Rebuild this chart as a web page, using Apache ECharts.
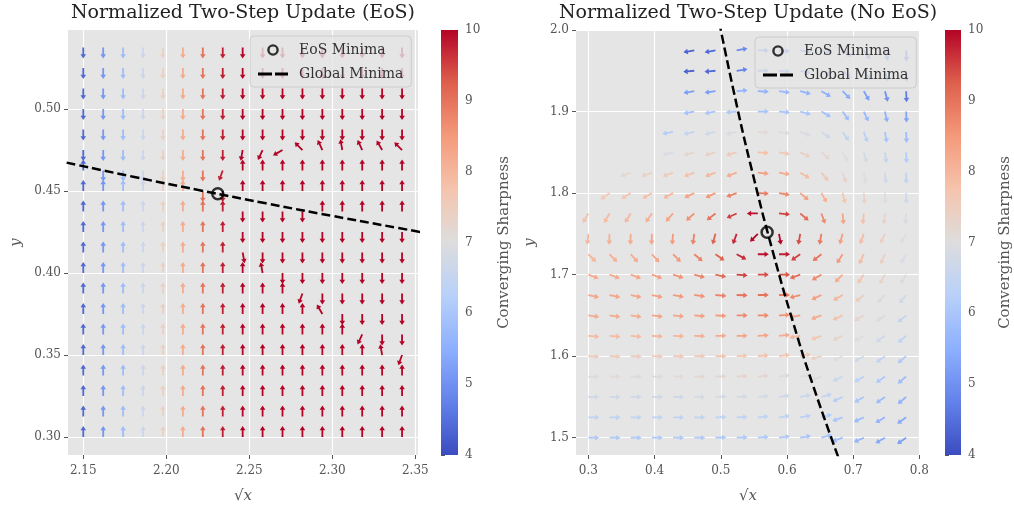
<!DOCTYPE html>
<html><head><meta charset="utf-8">
<script src="https://cdn.jsdelivr.net/npm/echarts@6/dist/echarts.min.js"></script>
<style>html,body{margin:0;padding:0;background:#fff}#c{width:1014px;height:512px}</style>
</head><body><div id="c"></div>
<script>
// ---------- DATA ----------
const leftX = [2.150,2.162,2.174,2.186,2.198,2.210,2.222,2.234,2.246,2.258,2.270,2.282,2.294,2.306,2.318,2.330,2.342];
const leftY = [0.3000,0.3125,0.3250,0.3375,0.3500,0.3625,0.3750,0.3875,0.4000,0.4125,0.4250,0.4375,0.4500,0.4625,0.4750,0.4875,0.5000,0.5125,0.5250,0.5375];
// converging sharpness per column (left panel)
const leftSharp = [4.4,5.1,5.8,6.6,7.4,8.2,9.0,9.8,10,10,10,10,10,10,10,10,10];
// arrow direction codes (screen angle, degrees) per row, top row first
const dirCode = {U:90, D:270, a:100, b:115, e:120, c:135, h:210, g:245, f:250, j:260, i:280};
const leftDirRows = [
  "DDDDDDDDDDDDDDDDD",
  "DDDDDDDDDDDDDDDDD",
  "DDDDDDDDDDDDDDDDD",
  "DDDDDDDDDDDDDDDDD",
  "DDDDDDDDDDDDDDDDD",
  "DDDDDDDDjghcbabec",
  "UDDDDDDfUUUUUUUUU",
  "UUUUUUDDUUUUUUUUU",
  "UUUUUUUUDDDDUUUUU",
  "UUUUUUUUDDDDDDDDD",
  "UUUUUUUUiDDDDDDDD",
  "UUUUUUUUUaDDDDDDD",
  "UUUUUUUUUUUfDDDDD",
  "UUUUUUUUUUUUeDDDD",
  "UUUUUUUUUUUUUUgDD",
  "UUUUUUUUUUUUUUUaf",
  "UUUUUUUUUUUUUUUUU",
  "UUUUUUUUUUUUUUUUU",
  "UUUUUUUUUUUUUUUUU",
  "UUUUUUUUUUUUUUUUU"
];
const leftLineX = [2.14, 2.18, 2.22, 2.26, 2.30, 2.34, 2.36];
const leftLineY = [0.4673, 0.4587, 0.4505, 0.4425, 0.4348, 0.4274, 0.4237];
const leftEoS = [2.231, 0.4483];

const rightX = [0.300,0.332,0.364,0.396,0.428,0.460,0.492,0.524,0.556,0.588,0.620,0.652,0.684,0.716,0.748,0.780];
const rightY = [1.500,1.525,1.550,1.575,1.600,1.625,1.650,1.675,1.700,1.725,1.750,1.775,1.800,1.825,1.850,1.875,1.900,1.925,1.950,1.975];
const n = null;
// arrow angles (degrees, screen), top row first
const rightAngle = [
  [n,n,n,n,n,190,190,10,0,-5,-10,-20,-35,-55,-75,-88],
  [n,n,n,n,n,185,185,8,0,-5,-12,-22,-40,-58,-76,-88],
  [n,n,n,n,n,190,188,5,-3,-8,-15,-30,-45,-60,-75,-88],
  [n,n,n,n,n,190,190,185,0,-5,-15,-30,-55,-65,-78,-88],
  [n,n,n,n,190,192,192,192,-3,-10,-20,-35,-55,-70,-80,-88],
  [n,n,n,n,195,195,195,195,-5,-10,-25,-40,-60,-75,-82,-88],
  [n,n,200,200,200,200,200,200,-5,-10,-30,-50,-70,-80,-85,-90],
  [n,215,212,210,208,205,205,200,-3,-10,-40,-60,-75,-85,-88,-90],
  [240,240,238,235,228,222,218,205,180,-5,-40,-70,-85,-95,-95,-95],
  [265,268,268,268,265,262,255,250,225,-80,-100,-100,-105,-110,-115,-120],
  [-45,-45,-48,-48,-45,-40,-35,-28,0,0,215,218,238,245,245,240],
  [-20,-20,-20,-20,-18,-15,-12,-5,0,0,200,210,225,235,240,240],
  [-12,-12,-12,-12,-10,-8,-5,-2,0,0,195,205,210,220,225,230],
  [-8,-8,-8,-7,-6,-5,-3,0,0,3,190,200,205,210,215,220],
  [-5,-5,-5,-4,-3,-2,0,0,3,5,190,200,205,210,215,220],
  [-3,-3,-3,-2,-2,0,0,3,5,8,10,195,205,210,215,220],
  [0,0,0,0,0,0,2,3,5,8,10,200,205,210,215,220],
  [0,0,0,0,0,0,2,3,5,8,10,15,205,210,215,220],
  [0,0,0,0,0,0,2,3,5,8,10,15,200,205,210,215],
  [0,0,0,0,0,0,2,3,5,8,10,15,200,205,210,215]
];
// converging sharpness, top row first
const rightSharp = [
  [n,n,n,n,n,4.3,4.4,4.9,5.0,5.0,5.0,5.0,5.0,4.9,4.8,4.6],
  [n,n,n,n,n,4.3,4.4,4.8,5.1,5.1,5.1,5.0,5.0,4.9,4.8,4.6],
  [n,n,n,n,n,5.2,5.2,5.6,5.6,5.7,5.6,5.5,5.4,5.2,5.0,4.7],
  [n,n,n,n,n,5.9,6.0,6.1,6.0,6.0,6.0,5.9,5.8,5.7,5.5,5.3],
  [n,n,n,n,6.2,6.5,6.7,6.9,7.1,7.0,6.9,6.7,6.5,6.3,6.0,5.8],
  [n,n,n,n,6.9,7.2,7.4,7.6,7.8,7.6,7.4,7.2,7.0,6.8,6.5,6.2],
  [n,n,7.2,7.4,7.6,7.8,8.0,8.2,8.4,8.2,7.9,7.6,7.3,7.0,6.7,6.4],
  [n,7.6,7.7,7.8,8.0,8.3,8.5,8.8,8.9,8.7,8.4,8.1,7.7,7.3,7.0,6.7],
  [7.8,7.9,8.0,8.1,8.3,8.6,9.0,9.5,9.9,9.5,9.1,8.7,8.3,7.8,7.3,6.9],
  [8.0,8.1,8.2,8.3,8.5,8.8,9.2,9.7,10,10,9.4,8.9,8.4,7.9,7.4,7.0],
  [8.0,8.1,8.2,8.3,8.5,8.8,9.2,9.7,9.9,9.8,9.5,9.0,8.5,7.9,7.4,6.9],
  [8.2,8.2,8.3,8.4,8.6,8.8,9.1,9.5,9.4,9.3,9.1,8.7,8.2,7.7,7.3,6.9],
  [8.3,8.3,8.3,8.4,8.5,8.6,8.8,9.0,9.0,8.9,8.7,8.4,8.0,7.5,7.1,6.7],
  [8.2,8.2,8.2,8.3,8.3,8.4,8.5,8.7,8.7,8.6,8.4,8.2,7.8,7.3,6.9,6.5],
  [7.9,7.9,7.9,8.0,8.0,8.1,8.2,8.3,8.3,8.2,8.0,7.7,7.3,7.0,6.7,6.4],
  [7.5,7.5,7.5,7.5,7.6,7.6,7.7,7.7,7.8,7.7,7.6,7.4,7.0,6.7,6.4,6.1],
  [7.1,7.1,7.1,7.1,7.1,7.2,7.2,7.3,7.2,7.1,7.0,6.9,6.6,6.3,6.1,5.8],
  [6.7,6.7,6.7,6.7,6.7,6.8,6.8,6.8,6.8,6.7,6.6,6.5,6.2,6.0,5.8,5.6],
  [6.4,6.4,6.4,6.4,6.4,6.4,6.4,6.4,6.4,6.4,6.3,6.2,6.0,5.8,5.6,5.4],
  [6.1,6.1,6.1,6.1,6.1,6.1,6.1,6.1,6.1,6.1,6.0,5.9,5.8,5.6,5.4,5.2]
];
const rightLineX = [0.49, 0.52, 0.55, 0.58, 0.61, 0.64, 0.68];
const rightLineY = [2.0408, 1.9231, 1.8182, 1.7241, 1.6393, 1.5625, 1.4706];
const rightEoS = [0.570, 1.752];

const leftXTicks = [2.15, 2.20, 2.25, 2.30, 2.35];
const leftYTicks = [0.30, 0.35, 0.40, 0.45, 0.50];
const rightXTicks = [0.3, 0.4, 0.5, 0.6, 0.7, 0.8];
const rightYTicks = [1.5, 1.6, 1.7, 1.8, 1.9, 2.0];
const cbarRange = [4, 10];

// ---------- helpers ----------
const cwStops = [[0,[59,76,192]],[0.125,[98,130,234]],[0.25,[141,176,254]],[0.375,[184,208,249]],[0.5,[221,221,221]],[0.625,[245,196,173]],[0.75,[244,154,123]],[0.875,[222,96,77]],[1,[180,4,38]]];
function cwT(t){
  t = Math.max(0, Math.min(1, t));
  for (let i = 1; i < cwStops.length; i++) {
    if (t <= cwStops[i][0]) {
      const a = cwStops[i-1], b = cwStops[i];
      const f = (t - a[0]) / (b[0] - a[0]);
      const c = a[1].map((v, k) => Math.round(v + (b[1][k] - v) * f));
      return 'rgb(' + c.join(',') + ')';
    }
  }
  return 'rgb(180,4,38)';
}
function cw(v){ return cwT((v - cbarRange[0]) / (cbarRange[1] - cbarRange[0])); }

const leftData = [];
leftDirRows.forEach((row, r) => {
  const j = leftY.length - 1 - r;
  for (let k = 0; k < row.length; k++) leftData.push([leftX[k], leftY[j], dirCode[row[k]], leftSharp[k]]);
});
const rightData = [];
rightAngle.forEach((row, r) => {
  const j = rightY.length - 1 - r;
  row.forEach((a, k) => { if (a !== null) rightData.push([rightX[k], rightY[j], a, rightSharp[r][k]]); });
});

function quiver(params, api){
  const p = api.coord([api.value(0), api.value(1)]);
  const ang = api.value(2) * Math.PI / 180;
  const dx = Math.cos(ang), dy = -Math.sin(ang);
  const nx = -dy, ny = dx;
  const L = 11, hl = 4.3, hw = 2.8, sw = 0.9;
  const loc = [[0,-sw],[L-hl,-sw],[L-hl,-hw],[L,0],[L-hl,hw],[L-hl,sw],[0,sw]];
  const pts = loc.map(([u, v]) => [p[0] + u*dx + v*nx, p[1] + u*dy + v*ny]);
  return {type:'polygon', shape:{points:pts}, style:{fill: cw(api.value(3))}};
}
function cbar(params, api){
  const a = api.coord([0, cbarRange[0]]), b = api.coord([1, cbarRange[1]]);
  const stops = [];
  for (let i = 0; i <= 40; i++) stops.push({offset: i/40, color: cwT(i/40)});
  return {type:'rect', shape:{x:a[0], y:b[1], width:b[0]-a[0], height:a[1]-b[1]},
    style:{fill:{type:'linear', x:0, y:1, x2:0, y2:0, colorStops:stops}}};
}

const FONT = 'DejaVu Serif';
const gray = '#555555';
function valAxis(grid, min, max, ticks, dec, name, gap, isY){
  return {
    type:'value', gridIndex:grid, min:min, max:max,
    axisLine:{show:false},
    axisTick:{show:true, length:4, lineStyle:{color:gray}, customValues:ticks},
    axisLabel:{customValues:ticks, formatter:(v)=>v.toFixed(dec), color:gray, fontFamily:FONT, fontSize:12, margin:isY ? 7 : 10},
    splitLine:{show:true, lineStyle:{color:'#ffffff', width:1.2}},
    name:name, nameLocation:'middle', nameGap:gap, nameRotate: isY ? 90 : 0,
    nameTextStyle:{fontFamily:FONT, fontSize:15, color:gray, fontStyle:'italic'}
  };
}

const dashIcon = 'path://M0,0L0.01,0L0.01,0.01ZM0,12L0.01,12L0.01,11.99ZM0,4.6h14v2.8h-14zM17,4.6h13v2.8h-13z';
const ringIcon = 'path://M0,6L0.01,6L0.01,6.01ZM30,6L29.99,6L29.99,6.01Z' +
  'M15,0.2A5.8,5.8 0 1,1 14.99,0.2ZM15,2.6A3.4,3.4 0 1,0 15.01,2.6Z';
const chart = echarts.init(document.getElementById('c'), null, {renderer:'canvas'});
const legendCommon = {
  data:[{name:'EoS Minima', icon:ringIcon, itemStyle:{color:'#000', borderWidth:0}},
        {name:'Global Minima', icon:dashIcon, itemStyle:{color:'#000', borderWidth:0}}],
  orient:'vertical', itemWidth:30, itemHeight:12, itemGap:10,
  padding:[7,8,6,8], backgroundColor:'rgba(229,229,229,0.8)', borderColor:'#cccccc', borderWidth:1, borderRadius:4,
  textStyle:{fontFamily:FONT, fontSize:14, color:'#333', padding:[0,0,0,6]}, selectedMode:false
};
chart.setOption({
  animation:false,
  grid:[
    {left:68, top:30, width:350, height:425, show:true, backgroundColor:'#E5E5E5', borderWidth:0},
    {left:576, top:30, width:344, height:425, show:true, backgroundColor:'#E5E5E5', borderWidth:0},
    {left:441, top:30, width:17, height:425},
    {left:945, top:30, width:17, height:425}
  ],
  xAxis:[
    valAxis(0, 2.1408, 2.3516, leftXTicks, 2, '√x', 34, false),
    valAxis(1, 0.2814, 0.8009, rightXTicks, 1, '√x', 34, false),
    {type:'value', gridIndex:2, min:0, max:1, show:false},
    {type:'value', gridIndex:3, min:0, max:1, show:false}
  ],
  yAxis:[
    valAxis(0, 0.2890, 0.5482, leftYTicks, 2, 'y', 44, true),
    valAxis(1, 1.4788, 2.0, rightYTicks, 1, 'y', 38, true),
    {type:'value', gridIndex:2, min:cbarRange[0], max:cbarRange[1], interval:1, position:'right',
     axisLine:{show:false}, axisTick:{show:true, length:4, lineStyle:{color:gray}}, splitLine:{show:false},
     axisLabel:{color:gray, fontFamily:FONT, fontSize:12, margin:7},
     name:'Converging Sharpness', nameLocation:'middle', nameGap:39, nameRotate:90,
     nameTextStyle:{fontFamily:FONT, fontSize:15, color:gray}},
    {type:'value', gridIndex:3, min:cbarRange[0], max:cbarRange[1], interval:1, position:'right',
     axisLine:{show:false}, axisTick:{show:true, length:4, lineStyle:{color:gray}}, splitLine:{show:false},
     axisLabel:{color:gray, fontFamily:FONT, fontSize:12, margin:7},
     name:'Converging Sharpness', nameLocation:'middle', nameGap:37, nameRotate:90,
     nameTextStyle:{fontFamily:FONT, fontSize:15, color:gray}}
  ],
  legend:[
    Object.assign({left:250, top:36}, legendCommon),
    Object.assign({left:755, top:37}, legendCommon)
  ],
  graphic:[
    {type:'text', x:243, y:13, style:{text:'Normalized Two-Step Update (EoS)', textAlign:'center', textVerticalAlign:'middle', font:'19px "DejaVu Serif"', fill:'#222'}},
    {type:'text', x:748, y:13, style:{text:'Normalized Two-Step Update (No EoS)', textAlign:'center', textVerticalAlign:'middle', font:'19px "DejaVu Serif"', fill:'#222'}}
  ],
  series:[
    {type:'custom', name:'quiverL', xAxisIndex:0, yAxisIndex:0, renderItem:quiver, data:leftData, z:2, silent:true},
    {type:'custom', name:'quiverR', xAxisIndex:1, yAxisIndex:1, renderItem:quiver, data:rightData, z:2, silent:true},
    {type:'line', name:'Global Minima', xAxisIndex:0, yAxisIndex:0, data:leftLineX.map((x,i)=>[x,leftLineY[i]]), symbol:'none', smooth:true,
     lineStyle:{color:'#000', width:2.5, type:[9,4]}, itemStyle:{color:'#000'}, z:3, clip:true},
    {type:'line', name:'Global Minima', xAxisIndex:1, yAxisIndex:1, data:rightLineX.map((x,i)=>[x,rightLineY[i]]), symbol:'none', smooth:true,
     lineStyle:{color:'#000', width:2.5, type:[9,4]}, itemStyle:{color:'#000'}, z:3, clip:true},
    {type:'scatter', name:'EoS Minima', xAxisIndex:0, yAxisIndex:0, data:[leftEoS], symbol:'circle', symbolSize:11,
     itemStyle:{color:'rgba(0,0,0,0)', borderColor:'#000', borderWidth:2.5}, z:4},
    {type:'scatter', name:'EoS Minima', xAxisIndex:1, yAxisIndex:1, data:[rightEoS], symbol:'circle', symbolSize:11,
     itemStyle:{color:'rgba(0,0,0,0)', borderColor:'#000', borderWidth:2.5}, z:4},
    {type:'custom', name:'cbL', xAxisIndex:2, yAxisIndex:2, renderItem:cbar, data:[[0,cbarRange[0],cbarRange[1]]], silent:true},
    {type:'custom', name:'cbR', xAxisIndex:3, yAxisIndex:3, renderItem:cbar, data:[[0,cbarRange[0],cbarRange[1]]], silent:true}
  ]
});
</script></body></html>
